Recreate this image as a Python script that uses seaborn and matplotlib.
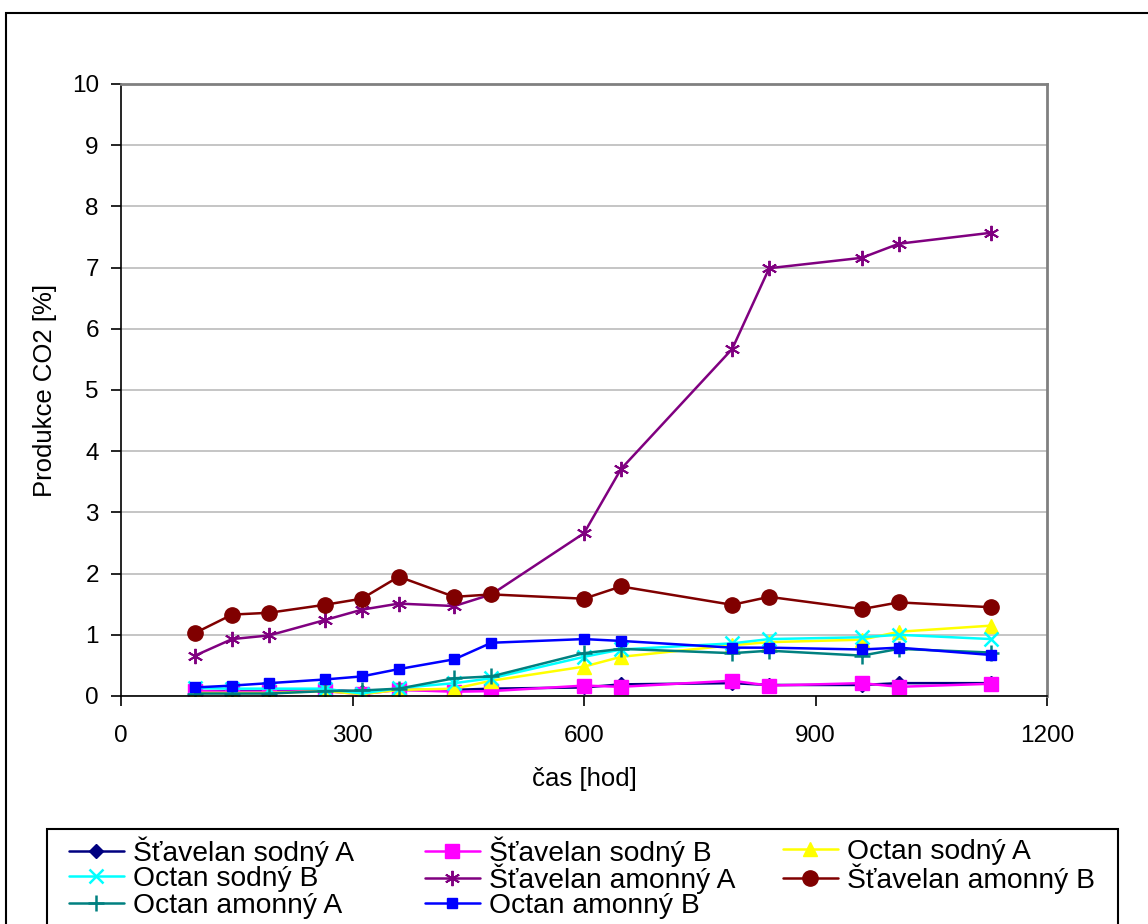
import matplotlib
matplotlib.use("Agg")
import matplotlib.pyplot as plt
from matplotlib.patches import Rectangle
import seaborn as sns
import pandas as pd

sns.set_theme(style="white")
plt.rcParams['font.family'] = ['Liberation Sans', 'DejaVu Sans']
plt.rcParams['text.color'] = 'black'

cas = [96, 144, 192, 264, 312, 360, 432, 480, 600, 648, 792, 840, 960, 1008, 1128]

stavelan_sodny_A = [0.08, 0.08, 0.08, 0.10, 0.07, 0.10, 0.10, 0.12, 0.14, 0.19, 0.21, 0.18, 0.18, 0.21, 0.21]
stavelan_sodny_B = [0.08, 0.07, 0.07, 0.08, 0.03, 0.10, 0.07, 0.08, 0.17, 0.15, 0.25, 0.17, 0.21, 0.15, 0.20]
octan_sodny_A = [0.05, 0.05, 0.05, 0.08, 0.03, 0.10, 0.12, 0.25, 0.48, 0.64, 0.83, 0.88, 0.92, 1.05, 1.15]
octan_sodny_B = [0.13, 0.12, 0.12, 0.12, 0.04, 0.13, 0.21, 0.29, 0.64, 0.76, 0.86, 0.93, 0.96, 1.00, 0.93]
stavelan_amonny_A = [0.66, 0.93, 0.99, 1.24, 1.41, 1.51, 1.47, 1.66, 2.66, 3.71, 5.67, 6.99, 7.16, 7.39, 7.57]
stavelan_amonny_B = [1.03, 1.33, 1.36, 1.49, 1.59, 1.95, 1.62, 1.66, 1.59, 1.79, 1.49, 1.62, 1.42, 1.53, 1.45]
octan_amonny_A = [0.04, 0.04, 0.04, 0.08, 0.09, 0.12, 0.29, 0.32, 0.70, 0.77, 0.70, 0.74, 0.66, 0.77, 0.71]
octan_amonny_B = [0.14, 0.17, 0.21, 0.27, 0.32, 0.44, 0.60, 0.87, 0.93, 0.90, 0.79, 0.79, 0.76, 0.79, 0.67]

labels = ["Šťavelan sodný A", "Šťavelan sodný B", "Octan sodný A", "Octan sodný B",
          "Šťavelan amonný A", "Šťavelan amonný B", "Octan amonný A", "Octan amonný B"]
series = [stavelan_sodny_A, stavelan_sodny_B, octan_sodny_A, octan_sodny_B,
          stavelan_amonny_A, stavelan_amonny_B, octan_amonny_A, octan_amonny_B]
colors = ["#000080", "#FF00FF", "#FFFF00", "#00FFFF", "#800080", "#800000", "#008080", "#0000FF"]
markers = ["D", "s", "^", "x", (6, 2, 0), "o", "+", "s"]
msizes = [7, 10, 10, 10, 11, 11, 11, 6.5]
medge = [1.0, 1.0, 1.0, 1.8, 1.4, 1.0, 1.8, 1.0]

W, H = 1148, 924
fig = plt.figure(figsize=(W / 100, H / 100), dpi=100)
ax = fig.add_axes([121 / W, 1 - 696 / H, (1047 - 121) / W, (696 - 84) / H])

# outer chart frame
fig.patches.append(Rectangle((6 / W, -0.1), 1.2, 1 - 13 / H + 0.1, transform=fig.transFigure,
                             fill=False, edgecolor="black", linewidth=1.5, zorder=0))

handles = []
for lab, vals, c, m, ms, me in zip(labels, series, colors, markers, msizes, medge):
    df = pd.DataFrame({"cas": cas, "val": vals})
    sns.lineplot(data=df, x="cas", y="val", ax=ax, color=c, marker=m, markersize=ms,
                 markeredgecolor=c, markerfacecolor=c, markeredgewidth=me,
                 linewidth=1.8, label=lab, estimator=None, sort=False, legend=False)
    handles.append(ax.lines[-1])

ax.set_xlim(0, 1200)
ax.set_ylim(0, 10)
ax.set_xticks([0, 300, 600, 900, 1200])
ax.set_yticks(range(0, 11))
ax.yaxis.grid(True, color="#c0c0c0", linewidth=1.3)
ax.xaxis.grid(False)
ax.set_axisbelow(True)
for s in ["top", "right"]:
    ax.spines[s].set_color("#808080")
    ax.spines[s].set_linewidth(2)
for s in ["left", "bottom"]:
    ax.spines[s].set_color("black")
    ax.spines[s].set_linewidth(1.2)
ax.tick_params(axis="both", which="major", direction="out", length=7, width=1.2,
               color="black", labelsize=17.5, labelcolor="black", left=True, bottom=True)
ax.tick_params(axis="x", pad=14)
ax.tick_params(axis="y", pad=9)
ax.set_xlabel("čas [hod]", fontsize=18.5, color="black", labelpad=14)
ax.set_ylabel("Produkce CO2 [%]", fontsize=18.5, color="black", labelpad=10.5)

# legend box
fig.patches.append(Rectangle((47 / W, -0.1), (1118 - 47) / W, 1 - 829 / H + 0.1,
                             transform=fig.transFigure, fill=False, edgecolor="black",
                             linewidth=1.5, zorder=0))
# legend entries: row-major, 3 columns
col_x = [69, 425, 783]
row_y = [852, 879, 906]
for k, (h, lab) in enumerate(zip(handles, labels)):
    r, c = divmod(k, 3)
    lg = fig.legend([h], [lab], loc="center left",
                    bbox_to_anchor=(col_x[c] / W, 1 - row_y[r] / H), frameon=False,
                    fontsize=20.3, handlelength=1.95, handletextpad=0.32,
                    borderaxespad=0, borderpad=0)
    for t in lg.get_texts():
        t.set_color("black")

fig.savefig("out.png", dpi=100)
